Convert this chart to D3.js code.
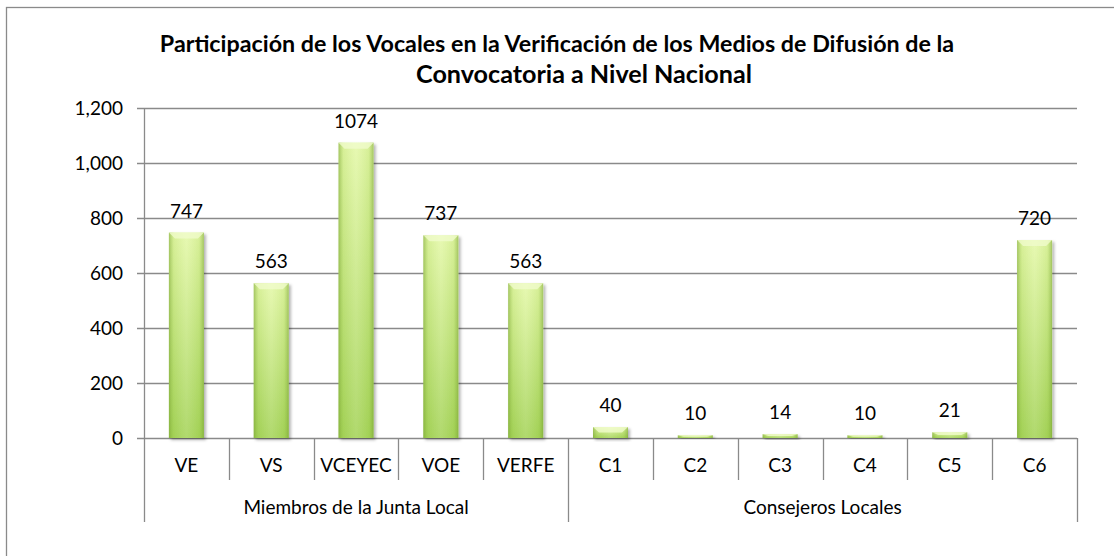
<!DOCTYPE html>
<html>
<head>
<meta charset="utf-8">
<script src="https://cdn.jsdelivr.net/npm/d3@7"></script>
<style>
  body { margin: 0; background: #fff; }
  svg { display: block; font-family: Lato, "Open Sans", sans-serif; }
</style>
</head>
<body>
<div id="chart"></div>
<script>
// Data
const categories = ["VE", "VS", "VCEYEC", "VOE", "VERFE", "C1", "C2", "C3", "C4", "C5", "C6"];
const values = [747, 563, 1074, 737, 563, 40, 10, 14, 10, 21, 720];
const groupNames = ["Miembros de la Junta Local", "Consejeros Locales"];
const groupSizes = [5, 6];
const yTicks = [0, 200, 400, 600, 800, 1000, 1200];
const titleLines = [
  "Participación de los Vocales en la Verificación de los Medios de Difusión de la",
  "Convocatoria a Nivel Nacional"
];

const W = 1114, H = 556;
const plot = { left: 144, right: 1077, top: 108, bottom: 438 };
const GRID = "#8a8a8a";
const FS = 19;

const svg = d3.select("#chart").append("svg")
  .attr("width", W).attr("height", H);

// gradients
const defs = svg.append("defs");
const vg = defs.append("linearGradient").attr("id", "barV")
  .attr("x1", 0).attr("y1", 0).attr("x2", 0).attr("y2", 1);
vg.append("stop").attr("offset", "0%").attr("stop-color", "#e4f8a8");
vg.append("stop").attr("offset", "100%").attr("stop-color", "#a6d45a");
const hg = defs.append("linearGradient").attr("id", "barH")
  .attr("x1", 0).attr("y1", 0).attr("x2", 1).attr("y2", 0);
hg.append("stop").attr("offset", "0%").attr("stop-color", "#6f9a2a").attr("stop-opacity", 0.55);
hg.append("stop").attr("offset", "14%").attr("stop-color", "#8fbf3e").attr("stop-opacity", 0.15);
hg.append("stop").attr("offset", "50%").attr("stop-color", "#ffffff").attr("stop-opacity", 0.12);
hg.append("stop").attr("offset", "86%").attr("stop-color", "#8fbf3e").attr("stop-opacity", 0.15);
hg.append("stop").attr("offset", "100%").attr("stop-color", "#6f9a2a").attr("stop-opacity", 0.55);
const shadow = defs.append("filter").attr("id", "shadow")
  .attr("x", "-20%").attr("y", "-20%").attr("width", "150%").attr("height", "150%");
shadow.append("feDropShadow").attr("dx", 2).attr("dy", 2).attr("stdDeviation", 1.5)
  .attr("flood-color", "#000").attr("flood-opacity", 0.3);

// outer border
svg.append("rect")
  .attr("x", 6.5).attr("y", 7.5).attr("width", W + 20).attr("height", H + 20)
  .attr("fill", "none").attr("stroke", GRID).attr("stroke-width", 1.3);

// Scales
const x = d3.scaleBand().domain(categories).range([plot.left, plot.right]).paddingInner(0).paddingOuter(0);
const y = d3.scaleLinear().domain([0, 1200]).range([plot.bottom, plot.top]);
const barW = 35;

// gridlines
svg.append("g").selectAll("line").data(yTicks).join("line")
  .attr("x1", plot.left - 7).attr("x2", plot.right)
  .attr("y1", d => Math.round(y(d)) + 0.5).attr("y2", d => Math.round(y(d)) + 0.5)
  .attr("stroke", GRID).attr("stroke-width", 1.3);

// y labels
svg.append("g").selectAll("text").data(yTicks).join("text")
  .attr("x", 123).attr("y", d => y(d)).attr("dy", "0.35em")
  .attr("text-anchor", "end").attr("font-size", FS).attr("fill", "#000")
  .text(d => d3.format(",")(d));

// left axis line (extends through the category rows)
svg.append("line")
  .attr("x1", plot.left + 0.5).attr("x2", plot.left + 0.5)
  .attr("y1", plot.top).attr("y2", 522)
  .attr("stroke", GRID).attr("stroke-width", 1.3);

// separators between categories and groups
const groupEnds = Array.from(d3.cumsum(groupSizes));
const groupStarts = [0].concat(groupEnds.slice(0, -1));
const boundaries = d3.range(1, categories.length + 1);
svg.append("g").selectAll("line").data(boundaries).join("line")
  .attr("x1", i => Math.round(plot.left + i * x.bandwidth()) + 0.5)
  .attr("x2", i => Math.round(plot.left + i * x.bandwidth()) + 0.5)
  .attr("y1", plot.bottom)
  .attr("y2", i => groupEnds.includes(i) ? 522 : 480)
  .attr("stroke", GRID).attr("stroke-width", 1.3);

// bars
const bars = svg.append("g").selectAll("g").data(categories).join("g")
  .attr("filter", "url(#shadow)");
bars.append("rect")
  .attr("x", d => x(d) + (x.bandwidth() - barW) / 2)
  .attr("y", (d, i) => y(values[i]))
  .attr("width", barW)
  .attr("height", (d, i) => y(0) - y(values[i]))
  .attr("fill", "url(#barV)");
bars.append("rect")
  .attr("x", d => x(d) + (x.bandwidth() - barW) / 2)
  .attr("y", (d, i) => y(values[i]))
  .attr("width", barW)
  .attr("height", (d, i) => y(0) - y(values[i]))
  .attr("fill", "url(#barH)");
// top bevel
bars.append("path")
  .attr("d", (d, i) => {
    const x0 = x(d) + (x.bandwidth() - barW) / 2, y0 = y(values[i]);
    const h = Math.min(6, (y(0) - y0) / 2);
    return `M${x0},${y0}H${x0 + barW}L${x0 + barW - 6},${y0 + h}H${x0 + 6}Z`;
  })
  .attr("fill", "#f0fbcc").attr("opacity", 0.8);

// value labels
svg.append("g").selectAll("text").data(categories).join("text")
  .attr("x", d => x(d) + x.bandwidth() / 2)
  .attr("y", (d, i) => y(values[i]) - 15)
  .attr("text-anchor", "middle").attr("font-size", FS).attr("fill", "#000")
  .text((d, i) => values[i]);

// category labels
svg.append("g").selectAll("text").data(categories).join("text")
  .attr("x", d => x(d) + x.bandwidth() / 2)
  .attr("y", 472)
  .attr("text-anchor", "middle").attr("font-size", FS).attr("fill", "#000")
  .text(d => d);

// group labels
svg.append("g").selectAll("text").data(groupNames).join("text")
  .attr("x", (d, i) => plot.left + (groupStarts[i] + groupSizes[i] / 2) * x.bandwidth())
  .attr("y", 514)
  .attr("text-anchor", "middle").attr("font-size", FS).attr("fill", "#000")
  .text(d => d);

// title
const titleCenters = [557, 584];
const titleBase = [52, 83];
const titleWidth = [795, 336];
titleLines.forEach((t, i) => {
  const el = svg.append("text")
    .attr("x", titleCenters[i]).attr("y", titleBase[i])
    .attr("text-anchor", "middle").attr("font-weight", "bold")
    .attr("font-size", 20).attr("fill", "#000")
    .text(t);
  const len = el.node().getComputedTextLength();
  el.attr("font-size", 20 * titleWidth[i] / len);
});
</script>
</body>
</html>
